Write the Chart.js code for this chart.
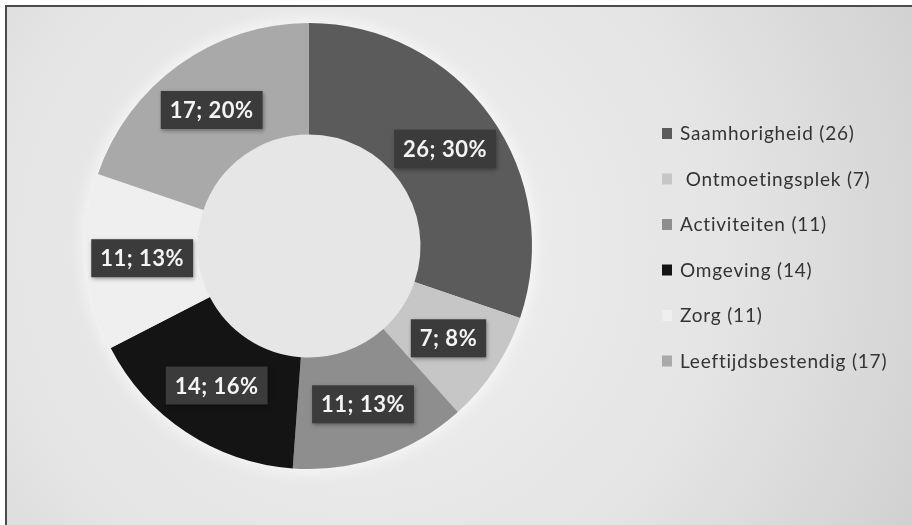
<!DOCTYPE html>
<html>
<head>
<meta charset="utf-8">
<script src="https://cdn.jsdelivr.net/npm/chart.js@4"></script>
<style>
  html, body { margin: 0; padding: 0; background: #fff; }
  #wrap { width: 912px; height: 525px; position: relative; }
</style>
</head>
<body>
<div id="wrap"><canvas id="chart" width="912" height="525"></canvas></div>
<script>
const categories = ['Saamhorigheid', 'Ontmoetingsplek', 'Activiteiten', 'Omgeving', 'Zorg', 'Leeftijdsbestendig'];
const counts = [26, 7, 11, 14, 11, 17];
const percents = [30, 8, 13, 16, 13, 20];
const sliceColors = ['#5b5b5b', '#c6c6c6', '#8e8e8e', '#141414', '#efefef', '#a9a9a9'];

// framed grey backdrop, drawn before anything else
const backdrop = {
  id: 'backdrop',
  beforeDraw(chart) {
    const ctx = chart.ctx;
    const w = chart.width, h = chart.height;
    ctx.save();
    ctx.fillStyle = '#ffffff';
    ctx.fillRect(0, 0, w, h);
    const g = ctx.createRadialGradient(360, 250, 40, 360, 250, 640);
    g.addColorStop(0, '#f0f0f0');
    g.addColorStop(0.55, '#e4e4e4');
    g.addColorStop(1, '#cfcfcf');
    ctx.fillStyle = g;
    ctx.fillRect(6, 6, w - 6, h - 6);
    ctx.fillStyle = '#4c4c4c';
    ctx.fillRect(5, 5, w - 5, 2);
    ctx.fillRect(5, 5, 2, h - 5);
    ctx.restore();
  }
};

// soft white halo behind the ring
const halo = {
  id: 'halo',
  beforeDatasetsDraw(chart) {
    const arc = chart.getDatasetMeta(0).data[0];
    if (!arc) return;
    const ctx = chart.ctx;
    ctx.save();
    ctx.shadowColor = 'rgba(255,255,255,0.9)';
    ctx.shadowBlur = 18;
    ctx.fillStyle = '#e6e6e6';
    ctx.beginPath();
    ctx.arc(arc.x, arc.y, arc.outerRadius, 0, Math.PI * 2);
    ctx.fill();
    ctx.restore();
  }
};

// dark boxes with "n; p%" in the middle of each slice
const sliceLabels = {
  id: 'sliceLabels',
  afterDatasetsDraw(chart) {
    const ctx = chart.ctx;
    const meta = chart.getDatasetMeta(0);
    ctx.save();
    ctx.font = 'bold 22px Lato, "Open Sans", sans-serif';
    ctx.letterSpacing = '0.5px';
    ctx.textAlign = 'center';
    ctx.textBaseline = 'middle';
    meta.data.forEach((arc, i) => {
      const p = arc.getCenterPoint();
      const text = counts[i] + '; ' + percents[i] + '%';
      const tw = ctx.measureText(text).width;
      const bw = tw + 18, bh = 38;
      ctx.shadowColor = 'rgba(0,0,0,0.35)';
      ctx.shadowBlur = 4;
      ctx.shadowOffsetX = 1;
      ctx.shadowOffsetY = 2;
      ctx.fillStyle = '#3b3b3b';
      ctx.fillRect(p.x - bw / 2, p.y - bh / 2, bw, bh);
      ctx.shadowColor = 'transparent';
      ctx.fillStyle = '#f4f4f4';
      ctx.fillText(text, p.x, p.y + 1);
    });
    ctx.restore();
  }
};

// legend list on the right
const sideLegend = {
  id: 'sideLegend',
  afterDraw(chart) {
    const ctx = chart.ctx;
    const x0 = 662, y0 = 133, step = 45.5;
    ctx.save();
    ctx.font = '19px Lato, "Open Sans", sans-serif';
    ctx.letterSpacing = '0.8px';
    ctx.textBaseline = 'middle';
    categories.forEach((name, i) => {
      const y = y0 + i * step;
      ctx.fillStyle = sliceColors[i];
      ctx.fillRect(x0, y - 5, 10, 11);
      ctx.fillStyle = '#333333';
      const label = (i === 1 ? ' ' : '') + name + ' (' + counts[i] + ')';
      ctx.fillText(label, x0 + 18, y + 1);
    });
    ctx.restore();
  }
};

new Chart(document.getElementById('chart'), {
  type: 'doughnut',
  data: {
    labels: categories,
    datasets: [{
      data: counts,
      backgroundColor: sliceColors,
      borderWidth: 0
    }]
  },
  options: {
    responsive: false,
    animation: false,
    cutout: '50%',
    layout: {
      padding: { left: 86, right: 380, top: 22, bottom: 55 }
    },
    plugins: {
      legend: { display: false },
      tooltip: { enabled: false }
    }
  },
  plugins: [backdrop, halo, sliceLabels, sideLegend]
});
</script>
</body>
</html>
